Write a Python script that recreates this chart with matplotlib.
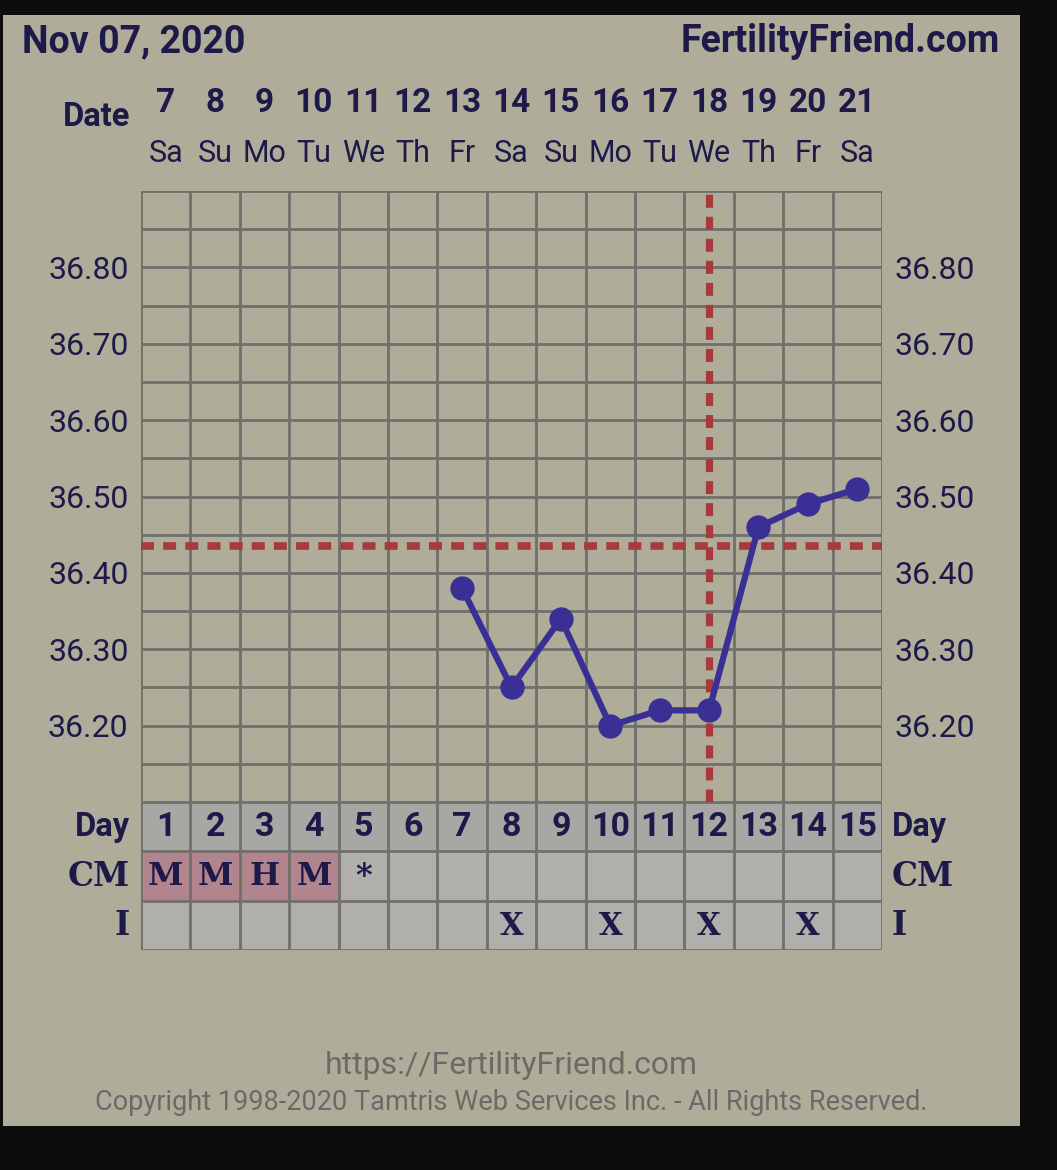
import matplotlib.pyplot as plt
import matplotlib.transforms as mtransforms
from matplotlib.patches import Rectangle

# chart data
cycle_days = list(range(1, 16))
dates = [7, 8, 9, 10, 11, 12, 13, 14, 15, 16, 17, 18, 19, 20, 21]
weekdays = ['Sa', 'Su', 'Mo', 'Tu', 'We', 'Th', 'Fr', 'Sa', 'Su', 'Mo', 'Tu', 'We', 'Th', 'Fr', 'Sa']
temp_days = [7, 8, 9, 10, 11, 12, 13, 14, 15]
temps = [36.38, 36.25, 36.34, 36.20, 36.22, 36.22, 36.46, 36.49, 36.51]
coverline = 36.435
ovulation_day = 12
cm_values = ['M', 'M', 'H', 'M', '*', '', '', '', '', '', '', '', '', '', '']
period_days = [1, 2, 3, 4]
intercourse = ['', '', '', '', '', '', '', 'X', '', 'X', '', 'X', '', 'X', '']
yticks = [36.20, 36.30, 36.40, 36.50, 36.60, 36.70, 36.80]

bg = '#afad9a'
navy = '#1d1949'
gridc = '#70706c'
linec = '#3a2f95'
redc = '#a8393d'

W, H = 1057, 1170
fig = plt.figure(figsize=(W / 100, H / 100), dpi=100, facecolor='#0d0d0d')
fig.patches.append(Rectangle((3 / W, 1 - 1126 / H), 1017 / W, 1111 / H,
                             transform=fig.transFigure, facecolor=bg, edgecolor='none', zorder=-5))

def fx(px):
    return px / W

def fy(py):
    return 1 - py / H

# temperature panel
ax = fig.add_axes([fx(141), fy(802), fx(882) - fx(141), fy(191) - fy(802)])
ax.set_facecolor(bg)
ax.set_xlim(0.5, 15.5)
ax.set_ylim(36.10, 36.90)
for s in ax.spines.values():
    s.set_visible(False)

for i in range(16):
    ax.axvline(0.5 + i, color=gridc, lw=2, zorder=1)
for k in range(17):
    ax.axhline(36.10 + 0.05 * k, color=gridc, lw=2, zorder=1)

ax.set_xticks([])
ax.set_yticks(yticks)
ax.set_yticklabels(['%.2f' % v for v in yticks])
ax.tick_params(axis='y', length=0, pad=9, labelsize=23, labelcolor=navy,
               labelleft=True, labelright=True)
for lab in ax.get_yticklabels():
    lab.set_fontfamily('Roboto')

ax.axhline(coverline, color=redc, lw=5.5, dashes=(1.7, 1.2), dash_capstyle='butt', zorder=2)
ax.axvline(ovulation_day, color=redc, lw=5.2, dashes=(1.8, 1.25), dash_capstyle='butt', zorder=2)

ax.plot(temp_days, temps, color=linec, lw=4.5, marker='o', markersize=16.5, zorder=3)

# header: dates and weekdays
tr = mtransforms.blended_transform_factory(ax.transData, fig.transFigure)
for d, dt, wd in zip(cycle_days, dates, weekdays):
    ax.text(d, fy(103), str(dt), transform=tr, ha='center', va='center',
            fontsize=24, fontweight='bold', color=navy, family='Roboto')
    ax.text(d, fy(153), wd, transform=tr, ha='center', va='center',
            fontsize=22, color=navy, family='Roboto')
fig.text(fx(130), fy(117), 'Date', ha='right', va='center', fontsize=23.5,
         fontweight='bold', color=navy, family='Roboto')
fig.text(fx(22), fy(42), 'Nov 07, 2020', ha='left', va='center', fontsize=27,
         fontweight='bold', color=navy, family='Roboto')
fig.text(fx(1000), fy(42), 'FertilityFriend.com', ha='right', va='center', fontsize=27,
         fontweight='bold', color=navy, family='Roboto')

# lower table: Day / CM / I
tb = fig.add_axes([fx(141), fy(950), fx(882) - fx(141), fy(802) - fy(950)])
tb.set_xlim(0.5, 15.5)
tb.set_ylim(3, 0)
tb.axis('off')
for d in cycle_days:
    tb.add_patch(Rectangle((d - 0.5, 0), 1, 1, facecolor='#a8a7a4', edgecolor='none'))
    cm_col = '#b2858e' if d in period_days else '#b0afac'
    tb.add_patch(Rectangle((d - 0.5, 1), 1, 1, facecolor=cm_col, edgecolor='none'))
    tb.add_patch(Rectangle((d - 0.5, 2), 1, 1, facecolor='#b0afac', edgecolor='none'))
    tb.text(d, 0.5, str(d), ha='center', va='center', fontsize=24.5,
            fontweight='bold', color=navy, family='Roboto')
    if cm_values[d - 1]:
        tb.text(d, 1.52, cm_values[d - 1], ha='center', va='center', fontsize=23,
                fontweight='bold', color=navy, family='DejaVu Serif')
    if intercourse[d - 1]:
        tb.text(d, 2.52, intercourse[d - 1], ha='center', va='center', fontsize=22,
                fontweight='bold', color=navy, family='DejaVu Serif')
for i in range(16):
    tb.plot([0.5 + i, 0.5 + i], [0, 3], color=gridc, lw=2)
for k in range(4):
    tb.plot([0.5, 15.5], [k, k], color=gridc, lw=2)

row_labels = ['Day', 'CM', 'I']
for r, lab in enumerate(row_labels):
    fam = 'Roboto' if lab == 'Day' else 'DejaVu Serif'
    tb.text(0.5 - 0.22, r + 0.5, lab, ha='right', va='center', fontsize=23.5,
            fontweight='bold', color=navy, family=fam)
    tb.text(15.5 + 0.2, r + 0.5, lab, ha='left', va='center', fontsize=23.5,
            fontweight='bold', color=navy, family=fam)

# footer
fig.text(fx(511), fy(1066), 'https://FertilityFriend.com', ha='center', va='center',
         fontsize=23, color='#6b6a66', family='Roboto')
fig.text(fx(511), fy(1103), 'Copyright 1998-2020 Tamtris Web Services Inc. - All Rights Reserved.',
         ha='center', va='center', fontsize=19.5, color='#6b6a66', family='Roboto')

fig.savefig('out.png', dpi=100, facecolor=fig.get_facecolor())
